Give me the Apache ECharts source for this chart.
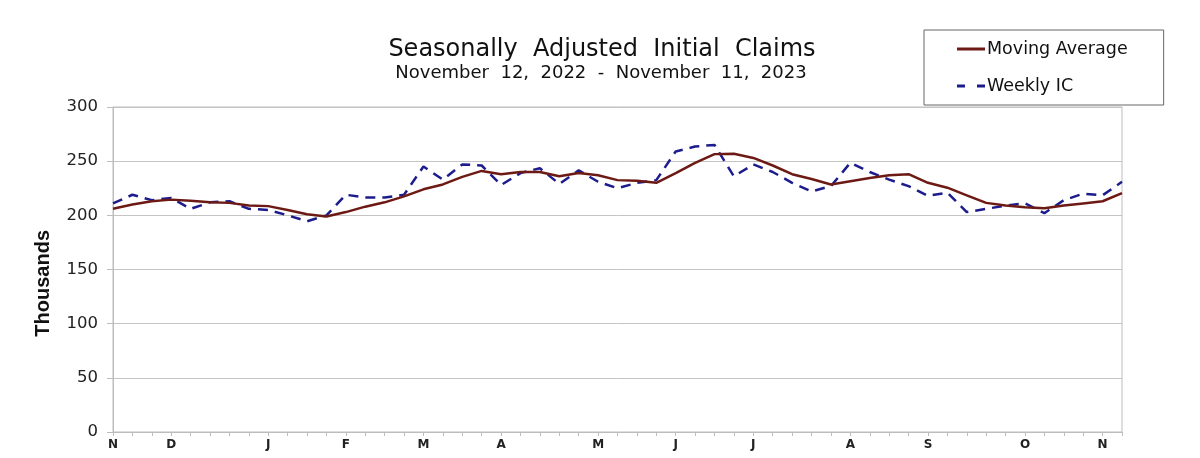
<!DOCTYPE html>
<html>
<head>
<meta charset="utf-8">
<script src="https://cdn.jsdelivr.net/npm/echarts@6/dist/echarts.min.js"></script>
<style>
  html, body { margin: 0; padding: 0; background: #fff; }
  #main { width: 1200px; height: 458px; }
</style>
</head>
<body>
<div id="main"></div>
<script>
// weeks ending Nov 12, 2022 .. Nov 11, 2023
var weeks = [];
for (var i = 0; i < 53; i++) { weeks.push('w' + i); }

// month letter shown under the first week of each month
var monthLabels = {0: 'N', 3: 'D', 8: 'J', 12: 'F', 16: 'M', 20: 'A', 25: 'M', 29: 'J', 33: 'J', 38: 'A', 42: 'S', 47: 'O', 51: 'N'};

var movingAverage = [206, 210, 213, 214.5, 213.5, 212, 211.5, 209, 208.5, 205, 201, 199, 203, 208, 212, 217.5,
    224, 228.5, 235.5, 241, 238, 240, 240, 236, 239, 237, 232.5, 232, 230, 239, 248.5, 256.5, 256.8, 253,
    246, 238, 233.5, 228.5, 231.5, 234.5, 237, 238, 230, 225.5, 218.5, 211.5, 209, 207.5, 206.5, 209, 211, 213, 220.5];

var weeklyIC = [211, 219, 214, 216, 206, 212, 213, 206, 205, 200, 194.5, 200, 219, 216.5, 216.5, 219,
    245, 233, 247, 246, 228, 239, 243.5, 229, 241.5, 231, 225, 230, 232.5, 259, 263.5, 265, 236, 247,
    240, 230, 222, 227, 248.5, 240, 233, 227, 218, 221, 203, 206, 209, 211, 202, 214, 220, 218.5, 231];

var FONT = 'DejaVu Sans, Liberation Sans, Arial, sans-serif';

var myChart = echarts.init(document.getElementById('main'));
var option = {
    backgroundColor: '#fff',
    animation: false,
    textStyle: { fontFamily: FONT },
    title: [
        {
            text: 'Seasonally  Adjusted  Initial  Claims',
            left: 597,
            top: 33,
            textAlign: 'center',
            textStyle: { fontSize: 24, fontWeight: 'normal', color: '#111', fontFamily: FONT }
        },
        {
            text: 'November  12,  2022  -  November  11,  2023',
            left: 596,
            top: 59,
            textAlign: 'center',
            textStyle: { fontSize: 18, fontWeight: 'normal', color: '#111', fontFamily: FONT }
        }
    ],
    legend: {
        left: 924,
        top: 30,
        orient: 'vertical',
        padding: [10, 36, 10, 33],
        borderColor: '#666',
        borderWidth: 1,
        itemGap: 19,
        itemWidth: 28,
        itemHeight: 3,
        textStyle: { fontSize: 17.5, color: '#111', padding: [0, 0, 0, -3], fontFamily: FONT },
        data: [
            { name: 'Moving Average', icon: 'rect', itemStyle: { color: '#6e1a14' } },
            { name: 'Weekly IC', icon: 'path://M0,0H8V3H0Z M20,0H28V3H20Z', itemStyle: { color: '#1c1c8c' } }
        ]
    },
    grid: {
        left: 113,
        right: 78,
        top: 107,
        bottom: 26,
        show: true,
        borderColor: '#bdbdbd',
        borderWidth: 1
    },
    xAxis: {
        type: 'category',
        boundaryGap: false,
        data: weeks,
        axisLine: { lineStyle: { color: '#bdbdbd' } },
        axisTick: { show: true, inside: false, length: 4, interval: 0, lineStyle: { color: '#bdbdbd' } },
        axisLabel: {
            interval: 0,
            margin: 7,
            fontSize: 12,
            fontWeight: 'bold',
            color: '#222',
            fontFamily: FONT,
            formatter: function (v, idx) { return monthLabels[idx] || ''; }
        },
        splitLine: { show: false }
    },
    yAxis: {
        type: 'value',
        min: 0,
        max: 300,
        interval: 50,
        axisLine: { show: true, lineStyle: { color: '#bdbdbd' } },
        axisTick: { show: true, length: 6, lineStyle: { color: '#bdbdbd' } },
        axisLabel: { fontSize: 16.5, color: '#222', margin: 15, fontFamily: FONT },
        splitLine: { lineStyle: { color: '#c4c4c4', width: 1 } }
    },
    graphic: [{
        type: 'text',
        left: 33,
        top: 230,
        rotation: Math.PI / 2,
        style: { text: 'Thousands', fontSize: 20, fontWeight: 'bold', fill: '#111', fontFamily: 'Liberation Sans, Arial, sans-serif' }
    }],
    series: [
        {
            name: 'Moving Average',
            type: 'line',
            data: movingAverage,
            showSymbol: false,
            color: '#6e1a14',
            lineStyle: { width: 2.5, color: '#6e1a14' },
            z: 3
        },
        {
            name: 'Weekly IC',
            type: 'line',
            data: weeklyIC,
            showSymbol: false,
            color: '#1c1c8c',
            lineStyle: { width: 2.5, color: '#1c1c8c', type: [10, 7] },
            z: 2
        }
    ]
};
myChart.setOption(option, true);
</script>
</body>
</html>
